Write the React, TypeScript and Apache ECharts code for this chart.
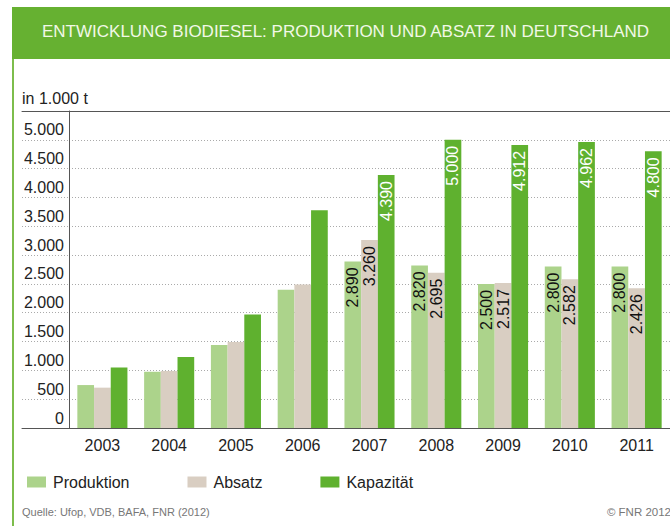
import React, { useEffect, useRef } from "react";
import * as echarts from "echarts";

const years = ["2003", "2004", "2005", "2006", "2007", "2008", "2009", "2010", "2011"];
const produktion = [745, 975, 1440, 2400, 2890, 2820, 2500, 2800, 2800];
const absatz = [700, 990, 1490, 2490, 3260, 2695, 2517, 2582, 2426];
const kapazitaet = [1050, 1230, 1970, 3780, 4390, 5000, 4912, 4962, 4800];
const labeledYears = ["2007", "2008", "2009", "2010", "2011"];
const seriesNames = ["Produktion", "Absatz", "Kapazität"];

const FONT = "'Liberation Sans', Arial, sans-serif";
const fmt = (v: number) => {
  const s = String(Math.round(v));
  return s.length > 3 ? s.slice(0, s.length - 3) + "." + s.slice(s.length - 3) : s;
};

export default function App() {
  const ref = useRef<HTMLDivElement>(null);
  useEffect(() => {
    if (!ref.current) return;
    const chart = echarts.init(ref.current, null, { renderer: "svg" });
    const mkData = (vals: number[]) =>
      vals.map((v, i) => ({ value: v, label: { show: labeledYears.includes(years[i]) } }));
    const labelBase = {
      position: "insideTop",
      rotate: 90,
      align: "right",
      verticalAlign: "middle",
      distance: 6,
      fontSize: 16,
      fontFamily: FONT,
      formatter: (p: any) => fmt(p.value),
    };
    const colors = ["#acd38b", "#d9cec2", "#5fb12f"];
    const valsArr = [produktion, absatz, kapazitaet];
    chart.setOption({
      animation: false,
      textStyle: { fontFamily: FONT },
      graphic: [
        { type: "rect", shape: { x: 12, y: 7, width: 660, height: 52 }, style: { fill: "#66b131" } },
        { type: "rect", shape: { x: 12, y: 59, width: 2, height: 470 }, style: { fill: "#7dbd4c" } },
        {
          type: "text",
          x: 42,
          y: 31,
          style: {
            text: "ENTWICKLUNG BIODIESEL: PRODUKTION UND ABSATZ IN DEUTSCHLAND",
            fill: "#f1f8e6",
            font: `17px ${FONT}`,
            verticalAlign: "middle",
          },
        },
        {
          type: "text",
          x: 22,
          y: 98,
          style: { text: "in 1.000 t", fill: "#222", font: `16px ${FONT}`, verticalAlign: "middle" },
        },
        {
          type: "text",
          x: 22,
          y: 512,
          style: { text: "Quelle: Ufop, VDB, BAFA, FNR (2012)", fill: "#777", font: `11px ${FONT}`, verticalAlign: "middle" },
        },
        {
          type: "text",
          x: 671,
          y: 512,
          style: { text: "© FNR 2012", fill: "#777", font: `11.5px ${FONT}`, align: "right", verticalAlign: "middle" },
        },
      ],
      legend: {
        left: 22,
        top: 469,
        itemWidth: 19,
        itemHeight: 11,
        itemGap: 58,
        icon: "rect",
        textStyle: { fontSize: 16, color: "#222", fontFamily: FONT, padding: [0, 0, 0, 2] },
        data: seriesNames,
      },
      grid: [
        { left: 69, right: -1, top: 111, height: 317 },
        { left: 22, width: 47, top: 111, height: 317 },
      ],
      xAxis: [
        {
          type: "category",
          gridIndex: 0,
          data: years,
          axisLine: { lineStyle: { color: "#555", width: 1 } },
          axisTick: { show: false },
          axisLabel: { color: "#222", fontSize: 16, margin: 9, fontFamily: FONT },
        },
        {
          type: "category",
          gridIndex: 0,
          position: "top",
          data: years,
          axisLine: { lineStyle: { color: "#555", width: 1 } },
          axisTick: { show: false },
          axisLabel: { show: false },
        },
        {
          type: "value",
          gridIndex: 1,
          axisLine: { show: true, lineStyle: { color: "#555", width: 1 } },
          axisTick: { show: false },
          axisLabel: { show: false },
          splitLine: { show: false },
        },
        {
          type: "value",
          gridIndex: 1,
          position: "top",
          axisLine: { show: true, lineStyle: { color: "#555", width: 1 } },
          axisTick: { show: false },
          axisLabel: { show: false },
          splitLine: { show: false },
        },
      ],
      yAxis: [
        {
          type: "value",
          gridIndex: 0,
          min: 0,
          max: 5500,
          interval: 500,
          axisLine: { show: true, lineStyle: { color: "#555", width: 1 } },
          axisTick: { show: false },
          axisLabel: {
            color: "#222",
            fontSize: 16,
            margin: 5,
            fontFamily: FONT,
            verticalAlign: "bottom",
            padding: [0, 0, 2, 0],
            formatter: (v: number) => (v > 5000 ? "" : fmt(v)),
          },
          splitLine: { lineStyle: { color: "#aaa", type: [1, 2], width: 1 } },
        },
        {
          type: "value",
          gridIndex: 1,
          min: 0,
          max: 5500,
          interval: 500,
          axisLine: { show: false },
          axisTick: { show: false },
          axisLabel: { show: false },
          splitLine: { lineStyle: { color: "#aaa", type: [1, 2], width: 1 } },
        },
      ],
      series: seriesNames.map((name, k) => ({
        name,
        type: "bar",
        xAxisIndex: 0,
        yAxisIndex: 0,
        barGap: "0%",
        barCategoryGap: "25%",
        itemStyle: { color: colors[k] },
        label: { ...labelBase, color: k === 2 ? "#ffffff" : "#111" },
        data: mkData(valsArr[k]),
      })),
    });
    return () => chart.dispose();
  }, []);
  return <div ref={ref} style={{ width: 670, height: 526, position: "absolute", left: 0, top: 0 }} />;
}
